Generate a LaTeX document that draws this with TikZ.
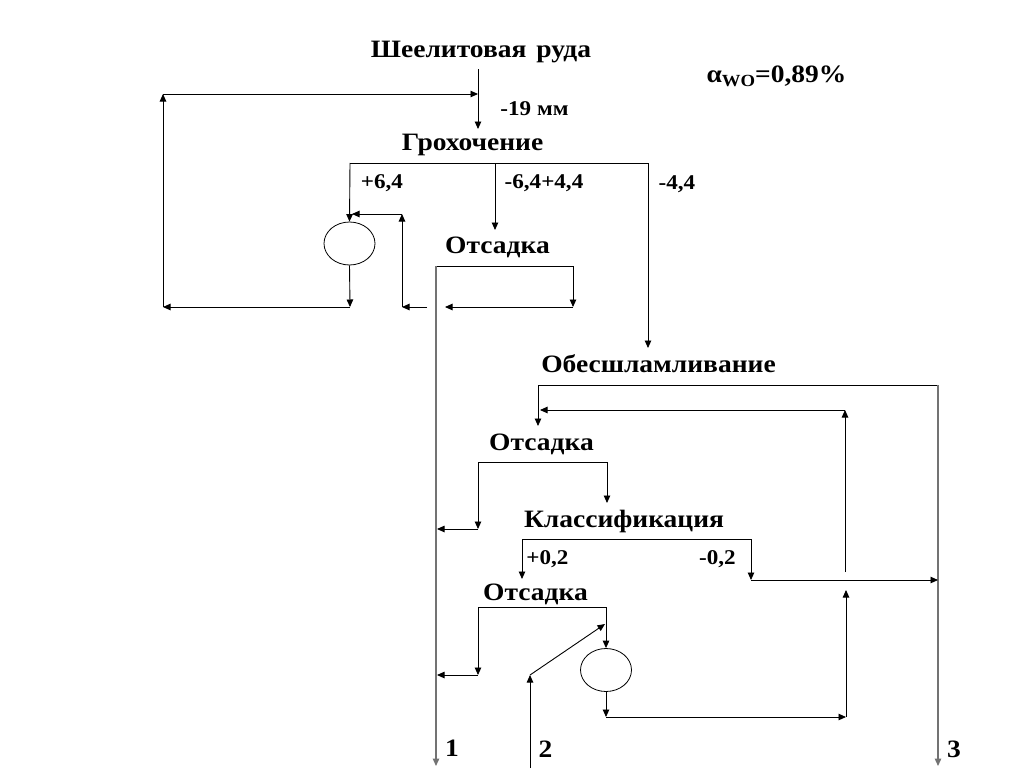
\documentclass[tikz,border=0pt]{standalone}
\usepackage{fontspec}
\setmainfont{Liberation Serif}[FakeStretch=1.1]
\usetikzlibrary{arrows.meta,shapes.geometric}
\begin{document}
\begin{tikzpicture}[x=1pt,y=-1pt,line width=0.9pt,
  >={Triangle[length=7.5pt,width=6.5pt]},
  big/.style={font=\bfseries\fontsize{25}{29}\selectfont,anchor=base,inner sep=0pt},
  small/.style={font=\bfseries\fontsize{21}{25}\selectfont,anchor=base,inner sep=0pt},
  flow/.style={->,draw=black},
  plain/.style={draw=black},
  stream/.style={->,draw=black!55,line width=1.3pt},
  mill/.style={draw=black,ellipse,line width=0.8pt,minimum width=51pt,minimum height=43pt,inner sep=0pt}]
\fill[white] (0,0) rectangle (1024,768);
\useasboundingbox (0,0) rectangle (1024,768);

% texts
\node[big] (ore) at (481,58) {Шеелитовая\hspace{10pt}руда};
\node[small] (mm) at (534.5,115) {-19 мм};
\node[big] (groh) at (472.5,150) {Грохочение};
\node[small] (p64) at (382,188) {+6,4};
\node[small] (m64) at (544,188) {-6,4+4,4};
\node[small] (m44) at (677,189) {-4,4};
\node[big] (ots1) at (497.5,253) {Отсадка};
\node[big] (obes) at (658.5,372) {Обесшламливание};
\node[big] (ots2) at (541.5,450) {Отсадка};
\node[big] (klass) at (624,527) {Классификация};
\node[small] (p02) at (547.5,564) {+0,2};
\node[small] (m02) at (717.5,564) {-0,2};
\node[big] (ots3) at (535.5,600) {Отсадка};
\node[big] (n1) at (452,756) {1};
\node[big] (n2) at (545.5,757) {2};
\node[big] (n3) at (954,757) {3};
\node[big] (alpha) at (776.5,82) {α\raisebox{-4pt}{\fontsize{17}{17}\selectfont WO}=0,89\%};

% mills
\node[mill] (m1) at (349.5,243.5) {};
\node[mill] (m2) at (606,670) {};

% coordinates
\coordinate (feedtop) at (478,69);
\coordinate (feedin) at (478,129);
\coordinate (g1) at (350,163);
\coordinate (g2) at (495,163);
\coordinate (g3) at (648,163);
\coordinate (o1in) at (495,230);
\coordinate (obin) at (648,348);
\coordinate (r1) at (350,307);
\coordinate (r2) at (163,307);
\coordinate (r3) at (163,94);
\coordinate (r4) at (478,94);
\coordinate (c0) at (427,307);
\coordinate (c1) at (402,307);
\coordinate (c2) at (402,214);
\coordinate (c3) at (352,214);
\coordinate (f1a) at (436,266);
\coordinate (f1b) at (573,266);
\coordinate (f1c) at (573,307);
\coordinate (f1e) at (445,307);
\coordinate (s1end) at (436,766);
\coordinate (ob1) at (538,385);
\coordinate (ob2) at (938,385);
\coordinate (s3end) at (938,766);
\coordinate (o2in) at (538,426);
\coordinate (rc1) at (845,572);
\coordinate (rc2) at (845,410);
\coordinate (rc3) at (540,410);
\coordinate (p1) at (478,462);
\coordinate (p2) at (607,462);
\coordinate (p3) at (607,503);
\coordinate (p4) at (478,529);
\coordinate (p5) at (437,529);
\coordinate (k1) at (522,539);
\coordinate (k2) at (751,539);
\coordinate (k3) at (522,579);
\coordinate (k4) at (751,580);
\coordinate (k5) at (938,580);
\coordinate (q1) at (478,607);
\coordinate (q2) at (606,607);
\coordinate (q4) at (478,675);
\coordinate (q5) at (437,675);
\coordinate (e1) at (606,717);
\coordinate (e2) at (846,717);
\coordinate (e3) at (846,590);
\coordinate (s2start) at (530,768);
\coordinate (s2a) at (530,675);
\coordinate (s2b) at (605,624);

% top section
\draw[flow] (feedtop) -- (feedin);
\draw[plain] (g1) -- (g3);
\draw[flow] (g1) -- (m1.north);
\draw[flow] (g2) -- (o1in);
\draw[flow] (g3) -- (obin);
\draw[flow] (m1.south) -- (r1);
\draw[flow] (r1) -- (r2);
\draw[flow] (r2) -- (r3);
\draw[flow] (r3) -- (r4);
\draw[flow] (c0) -- (c1);
\draw[flow] (c1) -- (c2);
\draw[flow] (c2) -- (c3);
\draw[plain] (f1a) -- (f1b);
\draw[flow] (f1b) -- (f1c);
\draw[flow] (f1c) -- (f1e);
\draw[stream] (f1a) -- (s1end);

% middle
\draw[plain] (ob1) -- (ob2);
\draw[stream] (ob2) -- (s3end);
\draw[flow] (ob1) -- (o2in);
\draw[flow] (rc1) -- (rc2);
\draw[flow] (rc2) -- (rc3);
\draw[plain] (p1) -- (p2);
\draw[flow] (p2) -- (p3);
\draw[flow] (p1) -- (p4);
\draw[flow] (p4) -- (p5);
\draw[plain] (k1) -- (k2);
\draw[flow] (k1) -- (k3);
\draw[flow] (k2) -- (k4);
\draw[flow] (k4) -- (k5);

% bottom
\draw[plain] (q1) -- (q2);
\draw[flow] (q2) -- (m2.north);
\draw[flow] (q1) -- (q4);
\draw[flow] (q4) -- (q5);
\draw[flow] (m2.south) -- (e1);
\draw[flow] (e1) -- (e2);
\draw[flow] (e2) -- (e3);
\draw[flow] (s2start) -- (s2a);
\draw[flow] (s2a) -- (s2b);
\end{tikzpicture}
\end{document}
